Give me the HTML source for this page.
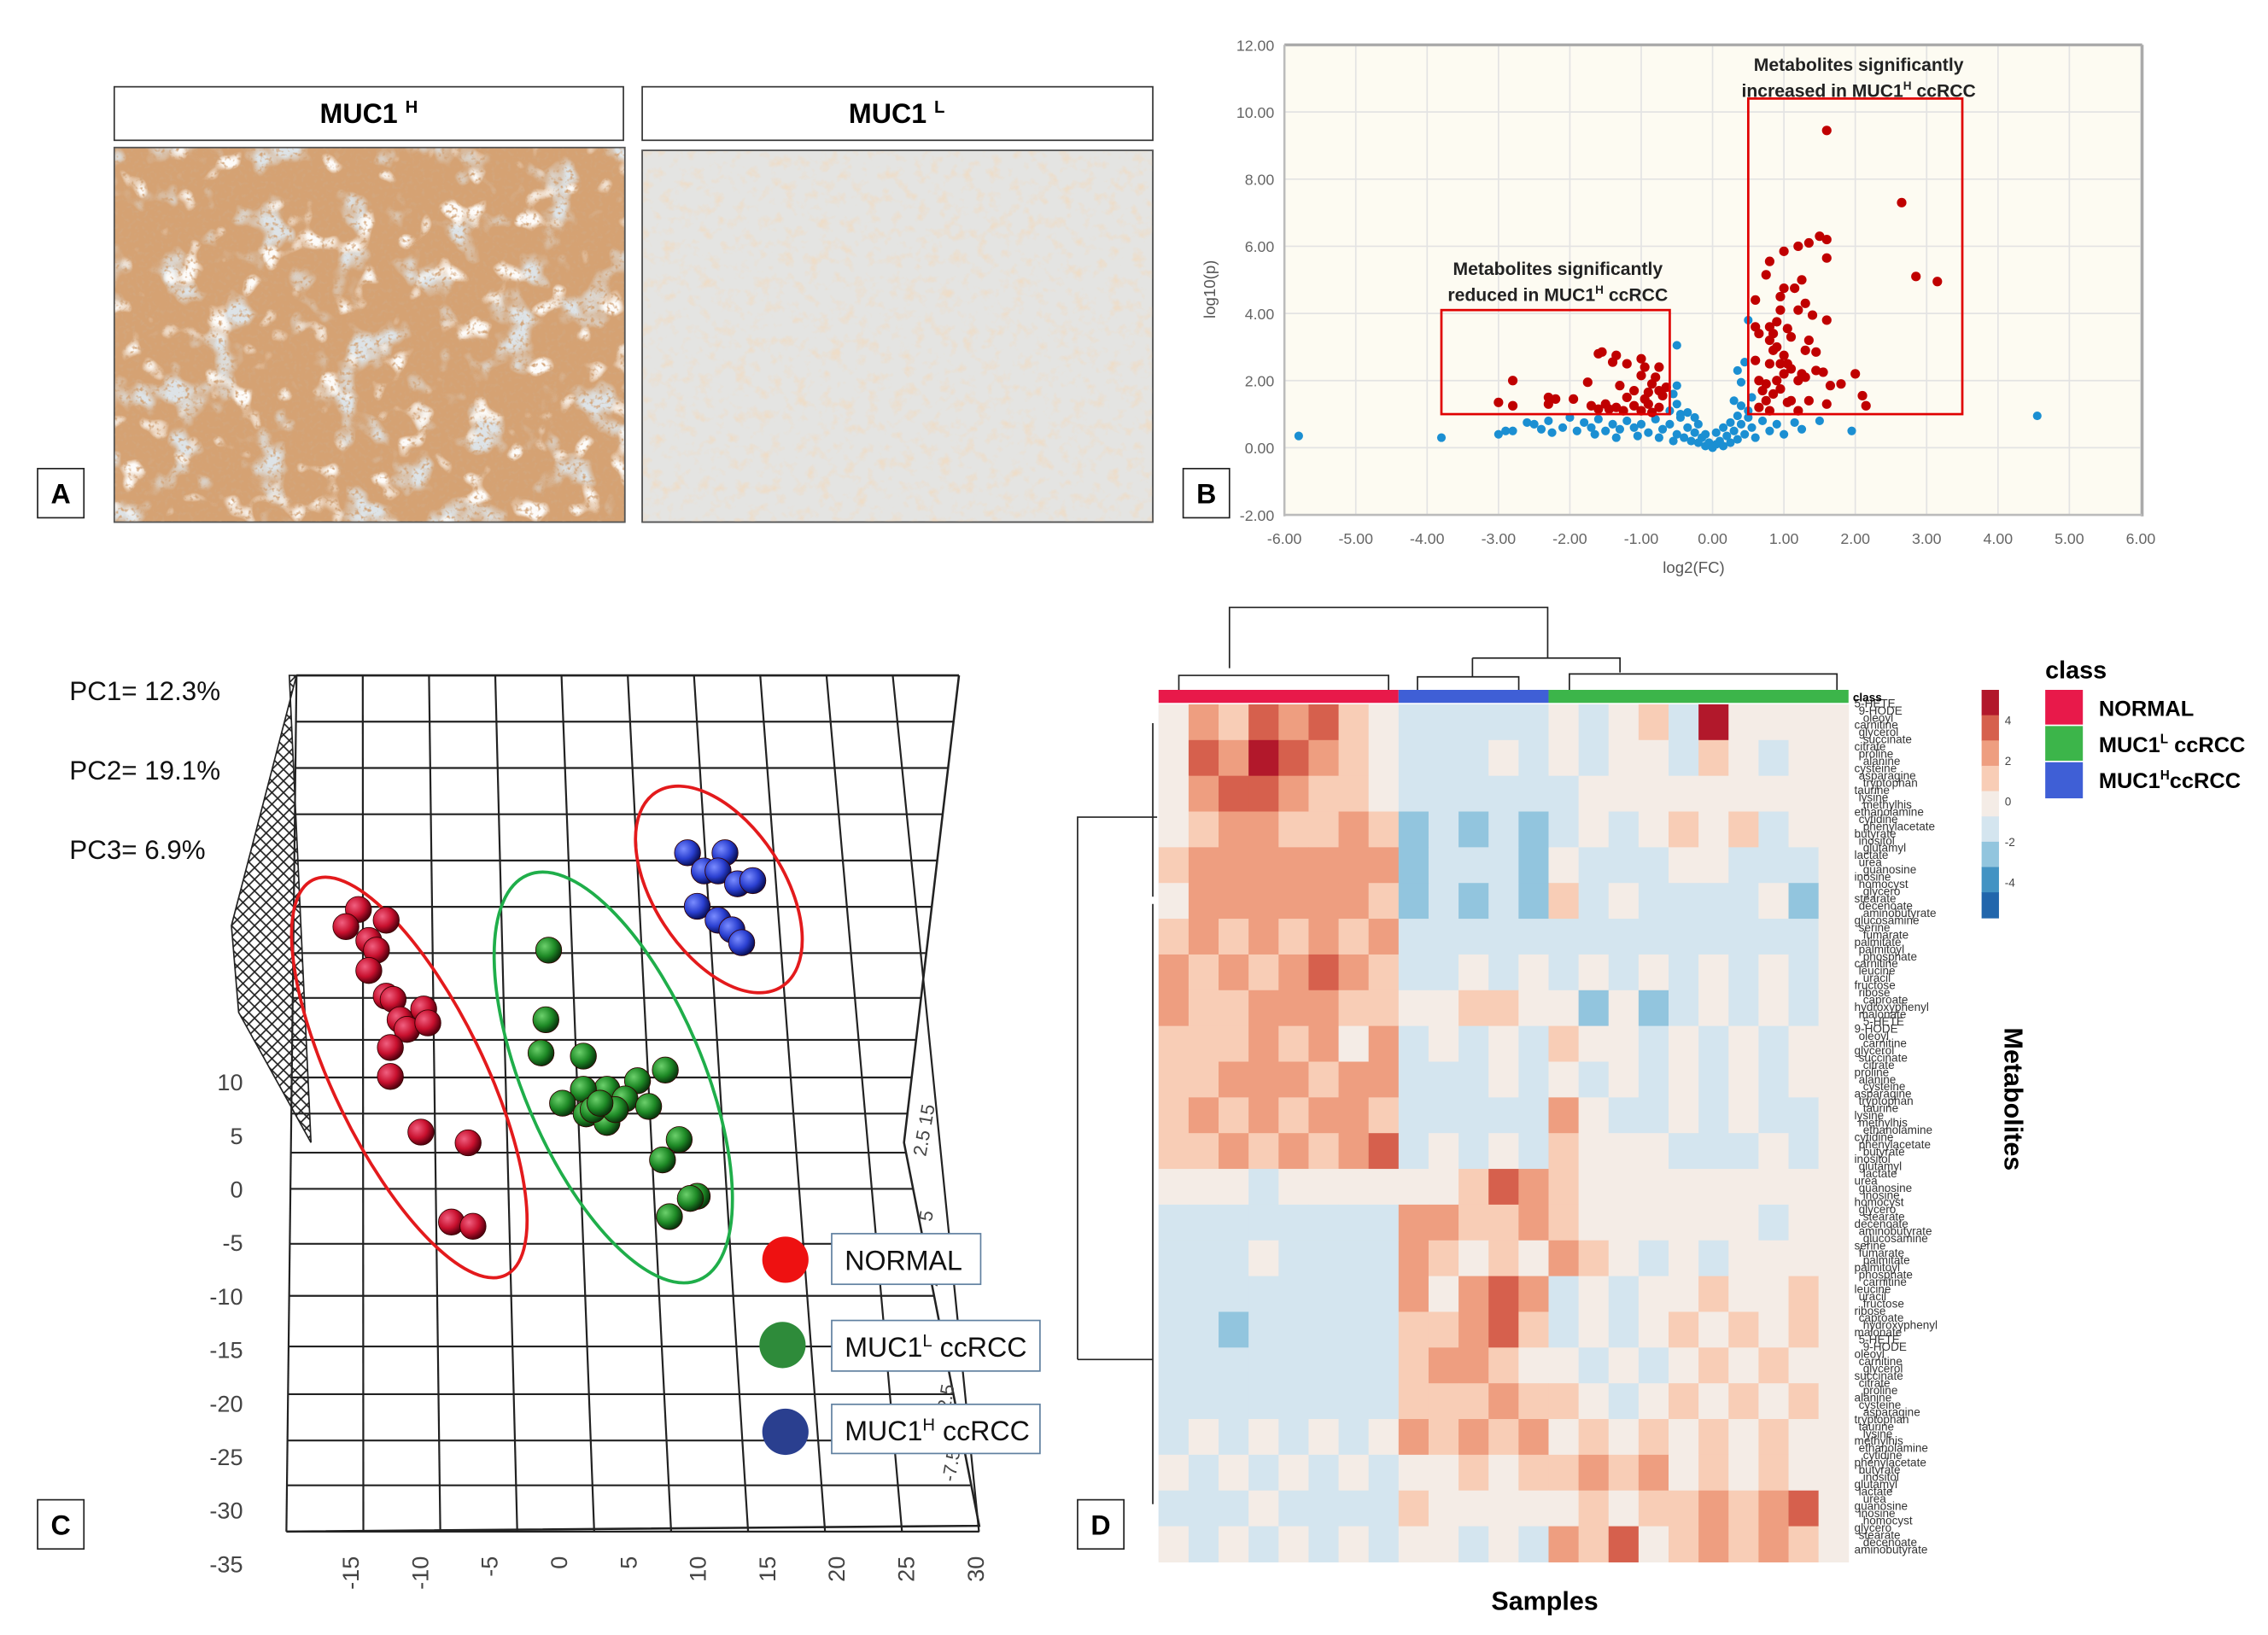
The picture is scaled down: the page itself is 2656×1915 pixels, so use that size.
<!DOCTYPE html>
<html><head><meta charset="utf-8"><style>
html,body{margin:0;padding:0;background:#fff}
svg{display:block}
text{font-family:"Liberation Sans",Arial,sans-serif}
</style></head><body>
<svg id="fig" width="2656" height="1915" viewBox="0 0 1568 1130.5" preserveAspectRatio="none" xmlns="http://www.w3.org/2000/svg">
<defs>
<filter id="texH1" x="0" y="0" width="1" height="1">
<feTurbulence type="fractalNoise" baseFrequency="0.035" numOctaves="3" seed="3"/>
<feColorMatrix type="matrix" values="0 0 0 0 0.72  0 0 0 0 0.77  0 0 0 0 0.80  5 0 0 0 -2.75"/>
<feComposite in2="SourceGraphic" operator="in"/>
</filter>
<filter id="texH2" x="0" y="0" width="1" height="1">
<feTurbulence type="fractalNoise" baseFrequency="0.05" numOctaves="2" seed="11"/>
<feColorMatrix type="matrix" values="0 0 0 0 0.98  0 0 0 0 0.97  0 0 0 0 0.95  7 0 0 0 -4.3"/>
<feComposite in2="SourceGraphic" operator="in"/>
</filter>
<filter id="texH3" x="0" y="0" width="1" height="1">
<feTurbulence type="fractalNoise" baseFrequency="0.35" numOctaves="2" seed="5"/>
<feColorMatrix type="matrix" values="0 0 0 0 0.65  0 0 0 0 0.38  0 0 0 0 0.20  4 0 0 0 -2.1"/>
<feComposite in2="SourceGraphic" operator="in"/>
</filter>
<filter id="texL" x="0" y="0" width="1" height="1">
<feTurbulence type="fractalNoise" baseFrequency="0.12" numOctaves="3" seed="7"/>
<feColorMatrix type="matrix" values="0 0 0 0 0.85  0 0 0 0 0.72  0 0 0 0 0.58  3 0 0 0 -1.5"/>
<feComposite in2="SourceGraphic" operator="in"/>
</filter>
<pattern id="hatch" width="8" height="8" patternUnits="userSpaceOnUse">
<path d="M0,0 L8,8 M8,0 L0,8" stroke="#222" stroke-width="1"/>
</pattern>
<radialGradient id="gR" cx="35%" cy="35%" r="65%"><stop offset="0" stop-color="#f06080"/><stop offset="0.6" stop-color="#c8102e"/><stop offset="1" stop-color="#5a0010"/></radialGradient>
<radialGradient id="gG" cx="35%" cy="35%" r="65%"><stop offset="0" stop-color="#6cd06c"/><stop offset="0.6" stop-color="#1e8a26"/><stop offset="1" stop-color="#0a3a0e"/></radialGradient>
<radialGradient id="gB" cx="35%" cy="35%" r="65%"><stop offset="0" stop-color="#7a8cff"/><stop offset="0.6" stop-color="#2a3fd0"/><stop offset="1" stop-color="#0a1260"/></radialGradient>
</defs>

<!-- PANEL A -->
<g>
<rect x="79" y="60" width="352" height="37" fill="#fff" stroke="#333" stroke-width="1"/>
<text x="255" y="85" font-size="19" font-weight="bold" text-anchor="middle">MUC1 <tspan font-size="12" dy="-7">H</tspan></text>
<rect x="79" y="102" width="353" height="259" fill="#d5a273" stroke="#555"/>
<rect x="79" y="102" width="353" height="259" fill="#fff" filter="url(#texH1)"/>
<rect x="79" y="102" width="353" height="259" fill="#fff" filter="url(#texH2)"/>
<rect x="79" y="102" width="353" height="259" fill="#fff" filter="url(#texH3)"/>
<rect x="79" y="102" width="353" height="259" fill="none" stroke="#555"/>
<rect x="444" y="60" width="353" height="37" fill="#fff" stroke="#333" stroke-width="1"/>
<text x="620" y="85" font-size="19" font-weight="bold" text-anchor="middle">MUC1 <tspan font-size="12" dy="-7">L</tspan></text>
<rect x="444" y="104" width="353" height="257" fill="#e4e4e2" stroke="#555"/>
<rect x="444" y="104" width="353" height="257" fill="#fff" filter="url(#texL)"/>
<rect x="444" y="104" width="353" height="257" fill="none" stroke="#555"/>
<rect x="26" y="324" width="32" height="34" fill="#fff" stroke="#222"/>
<text x="42" y="348" font-size="19" font-weight="bold" text-anchor="middle">A</text>
</g>

<!-- PANEL B -->
<g id="volcano">
<rect x="888" y="31" width="592" height="325" fill="#fdfbf2"/>
<g id="vgrid"></g>
<line x1="888" y1="31" x2="1481" y2="31" stroke="#aaa" stroke-width="2"/>
<line x1="1481" y1="31" x2="1481" y2="357" stroke="#aaa" stroke-width="2"/>
<line x1="888" y1="356" x2="1481" y2="356" stroke="#bbb" stroke-width="1.5"/>
<line x1="888" y1="31" x2="888" y2="357" stroke="#bbb" stroke-width="1.5"/>
<g id="vpts"></g>
<g id="vboxes"></g>
<text x="1171" y="396" font-size="11" fill="#555" text-anchor="middle">log2(FC)</text>
<text transform="translate(840,200) rotate(-90)" font-size="11" fill="#555" text-anchor="middle">log10(p)</text>
<text font-size="12.5" font-weight="bold" fill="#222" text-anchor="middle"><tspan x="1285" y="49">Metabolites significantly</tspan><tspan x="1285" y="67">increased in MUC1<tspan font-size="8" dy="-5">H</tspan><tspan dy="5">  ccRCC</tspan></tspan></text>
<text font-size="12.5" font-weight="bold" fill="#222" text-anchor="middle"><tspan x="1077" y="190">Metabolites significantly</tspan><tspan x="1077" y="208">reduced in MUC1<tspan font-size="8" dy="-5">H</tspan><tspan dy="5">  ccRCC</tspan></tspan></text>
<rect x="818" y="324" width="32" height="34" fill="#fff" stroke="#222"/>
<text x="834" y="348" font-size="19" font-weight="bold" text-anchor="middle">B</text>
</g>

<!-- PANEL C -->
<g id="pca">
<polygon points="205,467 160,640 165,700 215,790 200,467" fill="url(#hatch)" stroke="#222" stroke-width="1"/>
<g id="pgrid"></g>
<ellipse cx="283" cy="745" rx="152" ry="52" transform="rotate(64 283 745)" fill="none" stroke="#e31a1c" stroke-width="2.2"/>
<ellipse cx="424" cy="745" rx="152" ry="62" transform="rotate(67 424 745)" fill="none" stroke="#1fae4a" stroke-width="2.2"/>
<ellipse cx="497" cy="615" rx="80" ry="45" transform="rotate(57 497 615)" fill="none" stroke="#e31a1c" stroke-width="2.2"/>
<g id="ppts"></g>
<text x="48" y="484" font-size="18.5" fill="#111">PC1= 12.3%</text>
<text x="48" y="539" font-size="18.5" fill="#111">PC2= 19.1%</text>
<text x="48" y="594" font-size="18.5" fill="#111">PC3= 6.9%</text>
<g>
<circle cx="543" cy="871" r="16" fill="#ee1111"/>
<rect x="575" y="853" width="103" height="35" fill="#fff" stroke="#6080a0"/>
<text x="584" y="878" font-size="19" fill="#111">NORMAL</text>
<circle cx="541" cy="930" r="16" fill="#2e8b3a"/>
<rect x="575" y="913" width="144" height="35" fill="#fff" stroke="#6080a0"/>
<text x="584" y="938" font-size="19" fill="#111">MUC1<tspan font-size="12" dy="-7">L</tspan><tspan dy="7"> ccRCC</tspan></text>
<circle cx="543" cy="990" r="16" fill="#2a3f8f"/>
<rect x="575" y="971" width="144" height="34" fill="#fff" stroke="#6080a0"/>
<text x="584" y="996" font-size="19" fill="#111">MUC1<tspan font-size="12" dy="-7">H</tspan><tspan dy="7"> ccRCC</tspan></text>
</g>
<rect x="26" y="1037" width="32" height="34" fill="#fff" stroke="#222"/>
<text x="42" y="1061" font-size="19" font-weight="bold" text-anchor="middle">C</text>
</g>

<!-- PANEL D -->
<g id="heat">
<g id="hcells"></g>
<g id="hdend" fill="none" stroke="#222" stroke-width="1"></g>
<g id="hlabels"></g>
<text x="1281" y="485" font-size="8" font-weight="bold">class</text>
<g id="cbar"></g>
<text x="1414" y="469" font-size="17" font-weight="bold">class</text>
<rect x="1414" y="477" width="26" height="24" fill="#e8194a"/>
<rect x="1414" y="502" width="26" height="24" fill="#3cb54a"/>
<rect x="1414" y="527" width="26" height="25" fill="#3f5fd6"/>
<text x="1451" y="495" font-size="15" font-weight="bold">NORMAL</text>
<text x="1451" y="520" font-size="15" font-weight="bold">MUC1<tspan font-size="9" dy="-6">L</tspan><tspan dy="6"> ccRCC</tspan></text>
<text x="1451" y="545" font-size="15" font-weight="bold">MUC1<tspan font-size="9" dy="-6">H</tspan><tspan dy="6">ccRCC</tspan></text>
<text transform="translate(1386,760) rotate(90)" font-size="18" font-weight="bold" text-anchor="middle">Metabolites</text>
<text x="1068" y="1113" font-size="18" font-weight="bold" text-anchor="middle">Samples</text>
<rect x="745" y="1037" width="32" height="34" fill="#fff" stroke="#222"/>
<text x="761" y="1061" font-size="19" font-weight="bold" text-anchor="middle">D</text>
</g>
</svg>
<script>
const NS="http://www.w3.org/2000/svg";
function mk(tag,attrs,parent){const e=document.createElementNS(NS,tag);for(const k in attrs)e.setAttribute(k,attrs[k]);parent.appendChild(e);return e;}

/* ---------- Volcano data ---------- */
const xTicks=[-6,-5,-4,-3,-2,-1,0,1,2,3,4,5,6];
const yTicks=[-2,0,2,4,6,8,10,12];
const upFC=[1.6,2.65,2.85,3.15,1.5,1.6,1.35,1.2,1.0,0.8,1.6,0.75,1.25,1.15,1.0,0.95,0.6,1.3,0.95,1.2,1.4,0.9,1.6,0.6,0.8,1.05,0.65,0.85,1.1,0.8,1.35,0.9,0.85,1.0,1.3,1.45,1.05,0.6,0.8,0.95,1.1,1.0,1.55,1.45,1.25,2.0,0.65,0.9,1.2,1.3,0.75,1.8,1.65,0.7,0.95,0.85,2.1,0.75,1.05,1.1,1.35,1.6,2.15,0.65,1.2,0.8];
const upP=[9.45,7.3,5.1,4.95,6.3,6.2,6.1,6.0,5.85,5.55,5.65,5.15,5.0,4.75,4.75,4.5,4.4,4.3,4.1,4.1,3.95,3.75,3.8,3.6,3.6,3.55,3.4,3.4,3.3,3.2,3.2,3.0,2.9,2.75,2.9,2.85,2.5,2.6,2.5,2.5,2.35,2.2,2.25,2.3,2.2,2.2,2.0,2.0,2.0,2.1,1.9,1.9,1.85,1.7,1.75,1.6,1.55,1.4,1.35,1.4,1.4,1.3,1.25,1.2,1.1,1.1];
const downFC=[-2.8,-3.0,-2.8,-2.3,-2.2,-2.3,-1.95,-1.75,-1.6,-1.55,-1.35,-1.4,-1.2,-1.0,-0.95,-0.75,-1.0,-0.8,-0.85,-1.3,-0.65,-1.1,-0.9,-0.7,-1.2,-1.5,-1.35,-1.1,-0.9,-0.75,-1.6,-1.7,-1.0,-0.85,-1.25,-0.95,-0.75,-1.45];
const downP=[2.0,1.35,1.25,1.5,1.45,1.3,1.45,1.95,2.8,2.85,2.75,2.55,2.5,2.65,2.4,2.4,2.15,2.1,1.9,1.85,1.8,1.7,1.65,1.55,1.5,1.3,1.2,1.25,1.3,1.2,1.15,1.25,1.1,1.05,1.1,1.45,1.7,1.15];
const nsFC=[-5.8,-3.8,4.55,1.95,-0.5,0.5,0.45,0.35,0.4,0.55,-0.5,-0.55,-3.0,-2.9,-2.8,-2.6,-2.5,-2.4,-2.3,-2.1,-2.0,-1.9,-1.8,-1.7,-1.6,-1.5,-1.4,-1.3,-1.2,-1.1,-1.0,-0.9,-0.8,-0.7,-0.6,-0.5,-0.45,-0.4,-0.35,-0.3,-0.25,-0.2,-0.15,-0.1,-0.05,0.0,0.05,0.1,0.15,0.2,0.25,0.3,0.35,0.4,0.45,0.5,0.55,0.6,0.7,0.8,0.9,1.0,1.15,1.25,1.5,-0.6,-0.5,-0.45,0.3,0.4,0.5,0.35,-0.55,-0.75,-1.05,-1.35,-1.65,-2.25,0.15,-0.2,-0.1,0.05,0.25,-0.35,-0.25];
const nsP=[0.35,0.3,0.95,0.5,3.05,3.8,2.55,2.3,1.95,1.5,1.85,1.6,0.4,0.5,0.5,0.75,0.7,0.55,0.8,0.6,0.9,0.5,0.75,0.6,0.85,0.5,0.7,0.55,0.8,0.6,0.7,0.45,0.85,0.55,0.7,0.4,0.9,0.3,0.6,0.2,0.45,0.15,0.3,0.05,0.15,0.0,0.1,0.2,0.05,0.35,0.15,0.5,0.25,0.7,0.4,0.9,0.6,0.3,0.8,0.5,0.7,0.4,0.75,0.55,0.8,1.1,1.3,1.0,1.4,1.25,1.1,0.95,0.2,0.3,0.35,0.3,0.4,0.45,0.6,0.7,0.4,0.45,0.75,1.05,0.9];
const boxReduced=[-3.8,-0.6,1.0,4.1];
const boxIncreased=[0.5,3.5,1.0,10.4];
const vx=v=>888+(v+6)/12*592;
const vy=v=>356-(v+2)/14*325;

const vg=document.getElementById('vgrid');
xTicks.forEach(t=>{
 const l=mk('line',{x1:vx(t),x2:vx(t),y1:31,y2:356,stroke:'#e3e3e3','stroke-width':1},vg);
 
 
 const tx=mk('text',{x:vx(t),y:376,'font-size':10.5,fill:'#666','text-anchor':'middle'},vg);
 
 
 tx.textContent=t.toFixed(2);
});
yTicks.forEach(t=>{
 const l=mk('line',{x1:888,x2:1480,y1:vy(t),y2:vy(t),stroke:'#e3e3e3','stroke-width':1},vg);
 
 
 const tx=mk('text',{x:881,y:vy(t)+4,'font-size':10.5,fill:'#666','text-anchor':'end'},vg);
 
 
 tx.textContent=t.toFixed(2);
});
const vp=document.getElementById('vpts');
nsFC.forEach((f,i)=>{
 const c=mk('circle',{cx:vx(f),cy:vy(nsP[i]),r:3,fill:'#1b8fd2'},vp);
 
 
});
downFC.forEach((f,i)=>{
 const c=mk('circle',{cx:vx(f),cy:vy(downP[i]),r:3.3,fill:'#c00000'},vp);
 
 
});
upFC.forEach((f,i)=>{
 const c=mk('circle',{cx:vx(f),cy:vy(upP[i]),r:3.3,fill:'#c00000'},vp);
 
 
});
const vb=document.getElementById('vboxes');
const b1=mk('rect',{x:vx(boxReduced[0]),y:vy(boxReduced[3]),width:vx(boxReduced[1])-vx(boxReduced[0]),height:vy(boxReduced[2])-vy(boxReduced[3]),fill:'none',stroke:'#e00000','stroke-width':1.6},vb);


const b2=mk('rect',{x:vx(boxIncreased[0]),y:vy(boxIncreased[3]),width:vx(boxIncreased[1])-vx(boxIncreased[0]),height:vy(boxIncreased[2])-vy(boxIncreased[3]),fill:'none',stroke:'#e00000','stroke-width':1.6},vb);



/* ---------- PCA data ---------- */
const pcXTicks=[-15,-10,-5,0,5,10,15,20,25,30];
const pcYTicks=[10,5,0,-5,-10,-15,-20,-25,-30,-35];
const normalPC1=[-14.5,-15.4,-13.75,-12.5,-13.2,-13.75,-12.5,-12,-11.5,-11,-9.8,-9.5,-12.2,-12.2,-10,-6.6,-7.8,-6.25];
const normalPC2=[26.1,24.5,23.2,25.1,22.3,20.4,18,17.7,15.8,14.9,16.8,15.5,13.2,10.5,5.3,4.3,-3.1,-3.5];
const lowPC1=[-0.8,-1,-1.35,1.7,7.6,5.6,3.4,4.7,1.7,0.2,1.9,3.4,6.4,2.4,8.6,7.4,9.9,9.4,7.9,4,2.9];
const lowPC2=[22.3,15.8,12.7,12.4,11.1,10.1,9.3,8.4,9.3,8,7,6.2,7.7,7.4,4.6,2.7,-0.7,-0.9,-2.6,7.4,8];
const highPC1=[9.2,11.9,10.4,11.4,12.8,13.9,9.9,11.4,12.4,13.1];
const highPC2=[31.4,31.4,29.7,29.7,28.5,28.8,26.4,25.1,24.2,23];
const px=v=>243+(v+15)*9.6;
const py=v=>822-v*7.4;

const pg=document.getElementById('pgrid');
const hLinesY=[467,499,531,563,595,627,659,690,719,745,770,797,822,860,896,931,964,996,1027,1059];
hLinesY.forEach(y=>{
 const t=(y-467)/592;
 const rx= y<790 ? 663-(663-625)*(y-467)/323 : 625+(677-625)*(y-790)/269;
 const lx=205-(205-198)*t;
 const l=mk('line',{x1:lx,x2:rx,y1:y,y2:y,stroke:'#222','stroke-width':1.3},pg);
 
 
});
pcXTicks.forEach((v,i)=>{
 const top=205+i*45.8;
 const bot=198+i*53.2;
 const l=mk('line',{x1:top,y1:467,x2:bot,y2:1059,stroke:'#222','stroke-width':1.3},pg);
 
 
});
const l1=mk('line',{x1:205,y1:467,x2:663,y2:467,stroke:'#222','stroke-width':1.5},pg);


const l2=mk('polyline',{points:'663,467 625,790 677,1055 198,1059',fill:'none',stroke:'#222','stroke-width':1.5},pg);


pcXTicks.forEach(v=>{
 const t=mk('text',{transform:`translate(${px(v)+5},1076) rotate(-90)`,'font-size':16,fill:'#444','text-anchor':'end'},pg);
 
 
 t.textContent=v;
});
pcYTicks.forEach(v=>{
 const t=mk('text',{x:168,y:py(v)+6,'font-size':16,fill:'#444','text-anchor':'end'},pg);
 
 
 t.textContent=v;
});
['2.5 15','5','2.5','0','-2.5','-7.5'].forEach((s,i)=>{
 const t=mk('text',{transform:`translate(${640+i*4},${800+i*45}) rotate(-80)`,'font-size':13,fill:'#444'},pg);
 
 
 t.textContent=s;
});
const pp=document.getElementById('ppts');
function spheres(xs,ys,grad,name){xs.forEach((v,i)=>{
 const c=mk('circle',{cx:px(v),cy:py(ys[i]),r:9,fill:`url(#${grad})`,stroke:'#300','stroke-width':0.5},pp);
 
 
});}
spheres(normalPC1,normalPC2,'gR','normal-sample-point');
spheres(lowPC1,lowPC2,'gG','muc1l-sample-point');
spheres(highPC1,highPC2,'gB','muc1h-sample-point');

/* ---------- Heatmap data ---------- */
const heatRows=[
"4657675433333434538444",
"4768765433343434435434",
"4677655433333344444444",
"4566556523232343454534",
"5666666623332433344333",
"4666666523232534333342",
"5656565633333333333333",
"6565676533434343434343",
"6556665544554424234343",
"5556564634343544343434",
"5566656633343434343434",
"5656566533333643343433",
"5565656734343544433343",
"4443444444576544444444",
"3333333366556544444434",
"3334333365454654343444",
"3333333364676343445445",
"3323333355675343454545",
"3333333356654434345454",
"3333333355565543454545",
"3434343465656454545454",
"4343434344545565645454",
"3334333354444454556567",
"4343434344343657456565"];
const classCounts=[8,5,10];
const classColors=['#e8194a','#3f5fd6','#3cb54a'];
const heatColors=['#2166ac','#4393c3','#92c5de','#d4e5ef','#f4ece6','#f8cdb6','#ee9e80','#d6604d','#b2182b'];
const HX0=801,HX1=1278,HY0=487,HY1=1080;
const nCols=classCounts.reduce((a,b)=>a+b,0);
const cw=(HX1-HX0)/nCols, rh=(HY1-HY0)/heatRows.length;
const hc=document.getElementById('hcells');
const bg=mk('rect',{x:HX0,y:HY0,width:HX1-HX0,height:HY1-HY0,fill:'#d4e5ef'},hc);


heatRows.forEach((row,r)=>{
 for(let c=0;c<nCols;c++){
  const v=parseInt(row[c]||'4');
  const cell=mk('rect',{x:HX0+c*cw,y:HY0+r*rh,width:cw+0.3,height:rh+0.3,fill:heatColors[v]},hc);
  
  
 }
});
let acc=0;
classCounts.forEach((n,i)=>{
 const b=mk('rect',{x:HX0+acc*cw,y:477,width:n*cw,height:9,fill:classColors[i]},hc);
 
 
 acc+=n;
});
const hd=document.getElementById('hdend');
const dpaths=["M850,462 V420 H1070 V455","M1018,455 H1120 V465","M1018,455 V468","M815,477 V467 H960 V477","M980,477 V468 H1050 V477","M1085,477 V466 H1270 V477",
"M745,940 V565 H800","M745,940 H797","M797,625 V1040","M797,500 V620"];
dpaths.forEach(d=>{
 const p=mk('path',{d:d},hd);
 
 
});
const cb=document.getElementById('cbar');
heatColors.slice().reverse().forEach((col,i)=>{
 const r=mk('rect',{x:1370,y:477+i*17.5,width:12,height:18,fill:col},cb);
 
 
});
const cbTicks=[4,2,0,-2,-4];
cbTicks.forEach((t,i)=>{
 const tx=mk('text',{x:1386,y:501+i*28,'font-size':8,fill:'#444'},cb);
 
 
 tx.textContent=t;
});
const metNames=["5-HETE","9-HODE","oleoyl","carnitine","glycerol","succinate","citrate","proline","alanine","cysteine","asparagine","tryptophan","taurine","lysine","methylhis","ethanolamine","cytidine","phenylacetate","butyrate","inositol","glutamyl","lactate","urea","guanosine","inosine","homocyst","glycero","stearate","decenoate","aminobutyrate","glucosamine","serine","fumarate","palmitate","palmitoyl","phosphate","carnitine","leucine","uracil","fructose","ribose","caproate","hydroxyphenyl","malonate"];
const hl=document.getElementById('hlabels');
for(let i=0;i<118;i++){
 const t=mk('text',{x:1282+(i%3)*3,y:489+i*5,'font-size':8,fill:'#333'},hl);
 
 
 t.textContent=metNames[i%metNames.length];
}
</script>
</body></html>
